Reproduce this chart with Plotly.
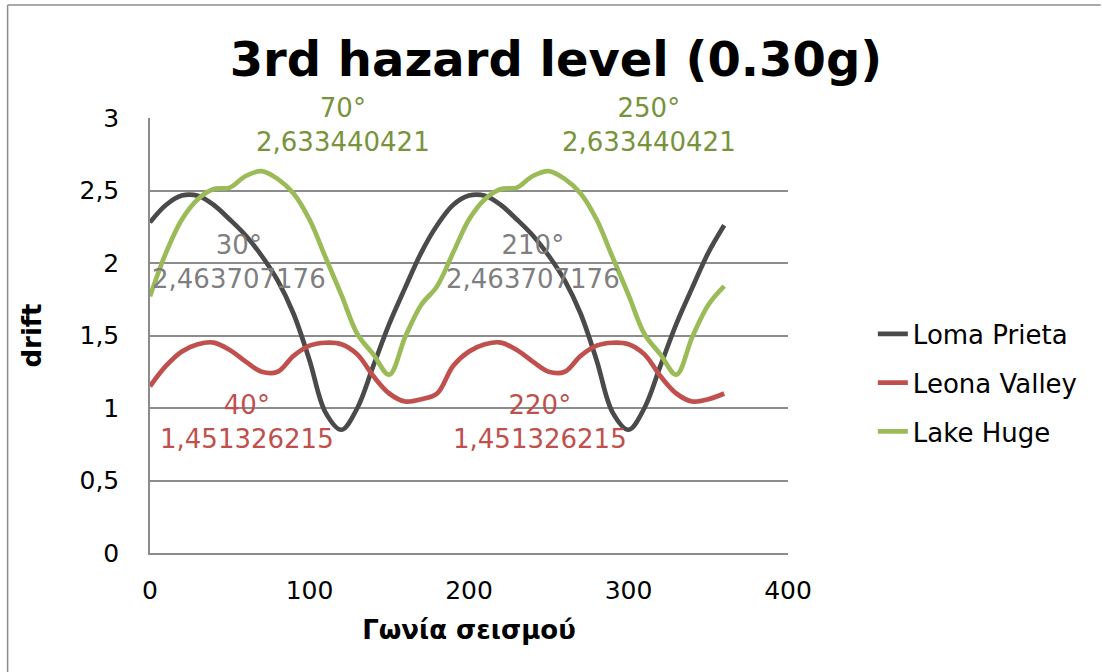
import plotly.graph_objects as go

# Earthquake incidence angle (degrees)
angles = [0, 10, 20, 30, 40, 50, 60, 70, 80, 90, 100, 110, 120, 130, 140, 150, 160, 170, 180,
          190, 200, 210, 220, 230, 240, 250, 260, 270, 280, 290, 300, 310, 320, 330, 340, 350, 360]

# Drift per record
loma_prieta = [2.28, 2.40, 2.465, 2.463707176, 2.40, 2.30, 2.19, 2.05, 1.88, 1.65, 1.33, 0.97, 0.85,
               1.00, 1.29, 1.58, 1.83, 2.07, 2.26,
               2.40, 2.465, 2.463707176, 2.40, 2.30, 2.19, 2.05, 1.88, 1.65, 1.33, 0.97, 0.85,
               1.00, 1.29, 1.58, 1.83, 2.07, 2.26]
leona_valley = [1.15, 1.29, 1.39, 1.44, 1.451326215, 1.40, 1.32, 1.25, 1.25, 1.36, 1.43, 1.45, 1.44,
                1.37, 1.22, 1.10, 1.045, 1.06, 1.10,
                1.29, 1.39, 1.44, 1.451326215, 1.40, 1.32, 1.25, 1.25, 1.36, 1.43, 1.45, 1.44,
                1.37, 1.22, 1.10, 1.045, 1.06, 1.10]
lake_huge = [1.77, 2.07, 2.30, 2.44, 2.51, 2.52, 2.60, 2.633440421, 2.58, 2.48, 2.30, 2.04, 1.78,
             1.51, 1.37, 1.23, 1.49, 1.71, 1.84,
             2.07, 2.30, 2.44, 2.51, 2.52, 2.60, 2.633440421, 2.58, 2.48, 2.30, 2.04, 1.78,
             1.51, 1.37, 1.23, 1.49, 1.71, 1.84]

series_names = ["Loma Prieta", "Leona Valley", "Lake Huge"]
series_values = [loma_prieta, leona_valley, lake_huge]
line_colors = ["#4A4A4A", "#C0504D", "#9BBB59"]
label_colors = ["#7F7F7F", "#C0504D", "#77933C"]

# Angles whose values are written on the chart, per series
labelled_angles = [[30, 210], [40, 220], [70, 250]]

FONT = "DejaVu Sans, Verdana, sans-serif"

fig = go.Figure()
for i, (name, vals) in enumerate(zip(series_names, series_values)):
    fig.add_trace(go.Scatter(
        x=angles, y=vals, name=name, mode="lines",
        line=dict(color=line_colors[i], width=4.7, shape="spline", smoothing=1.0),
        legendgroup=name,
        hoverinfo="x+y+name",
    ))

# Text positions (data coords) for each value label
label_pos = {
    (0, 30): (55.5, 2.008), (0, 210): (240.1, 2.008),
    (1, 40): (60.5, 0.904), (1, 220): (244.8, 0.904),
    (2, 70): (121.3, 2.951), (2, 250): (312.9, 2.951),
}
annotations = []
for i, angs in enumerate(labelled_angles):
    for a in angs:
        v = series_values[i][angles.index(a)]
        txt = f"{a}°<br>{str(v).replace('.', ',')}"
        px, py = label_pos[(i, a)]
        annotations.append(dict(
            x=px, y=py, xref="x", yref="y", text=txt, showarrow=False,
            font=dict(family=FONT, size=26, color=label_colors[i]),
            xanchor="center", yanchor="middle", align="center",
        ))

# Chart-area frame: only its top and left edges fall inside the page
frame_x0 = (7 - 149.5) / 638.5
frame_y1 = (553.3 - 5) / 435.3
frame_shapes = [
    dict(type="line", xref="paper", yref="paper", x0=frame_x0, x1=1.49, y0=frame_y1, y1=frame_y1,
         line=dict(color="#8C8C8C", width=1.5), layer="below"),
    dict(type="line", xref="paper", yref="paper", x0=frame_x0, x1=frame_x0, y0=-0.3, y1=frame_y1,
         line=dict(color="#8C8C8C", width=1.5), layer="below"),
]

fig.update_layout(
    width=1102, height=672,
    margin=dict(l=149.5, r=314, t=118, b=118.7, autoexpand=False),
    paper_bgcolor="white", plot_bgcolor="white",
    separators=", ",
    font=dict(family=FONT, size=25, color="black"),
    title=dict(text="<b>3rd hazard level (0.30g)</b>", x=0.5045, xanchor="center",
               y=1 - 59 / 672, yanchor="middle",
               font=dict(family=FONT, size=48, color="black")),
    xaxis=dict(range=[0, 400], dtick=100, tick0=0, showgrid=False,
               showline=True, linecolor="#8C8C8C", linewidth=1.5,
               ticks="", ticklabelstandoff=14, zeroline=False,
               tickfont=dict(size=25),
               title=dict(text="<b>Γωνία σεισμού</b>", font=dict(size=26), standoff=17)),
    yaxis=dict(range=[0, 3], dtick=0.5, tick0=0, showgrid=True, gridcolor="#8C8C8C", gridwidth=1.5,
               showline=True, linecolor="#8C8C8C", linewidth=1.5,
               ticks="", ticklabelstandoff=24, zeroline=False,
               tickfont=dict(size=25),
               title=dict(text="<b>drift</b>", font=dict(size=26), standoff=30)),
    legend=dict(x=1.133, xanchor="left", y=0.391, yanchor="middle",
                font=dict(family=FONT, size=26), tracegroupgap=12,
                bgcolor="rgba(0,0,0,0)"),
    annotations=annotations,
    shapes=frame_shapes,
)

fig.write_html("out.html")
